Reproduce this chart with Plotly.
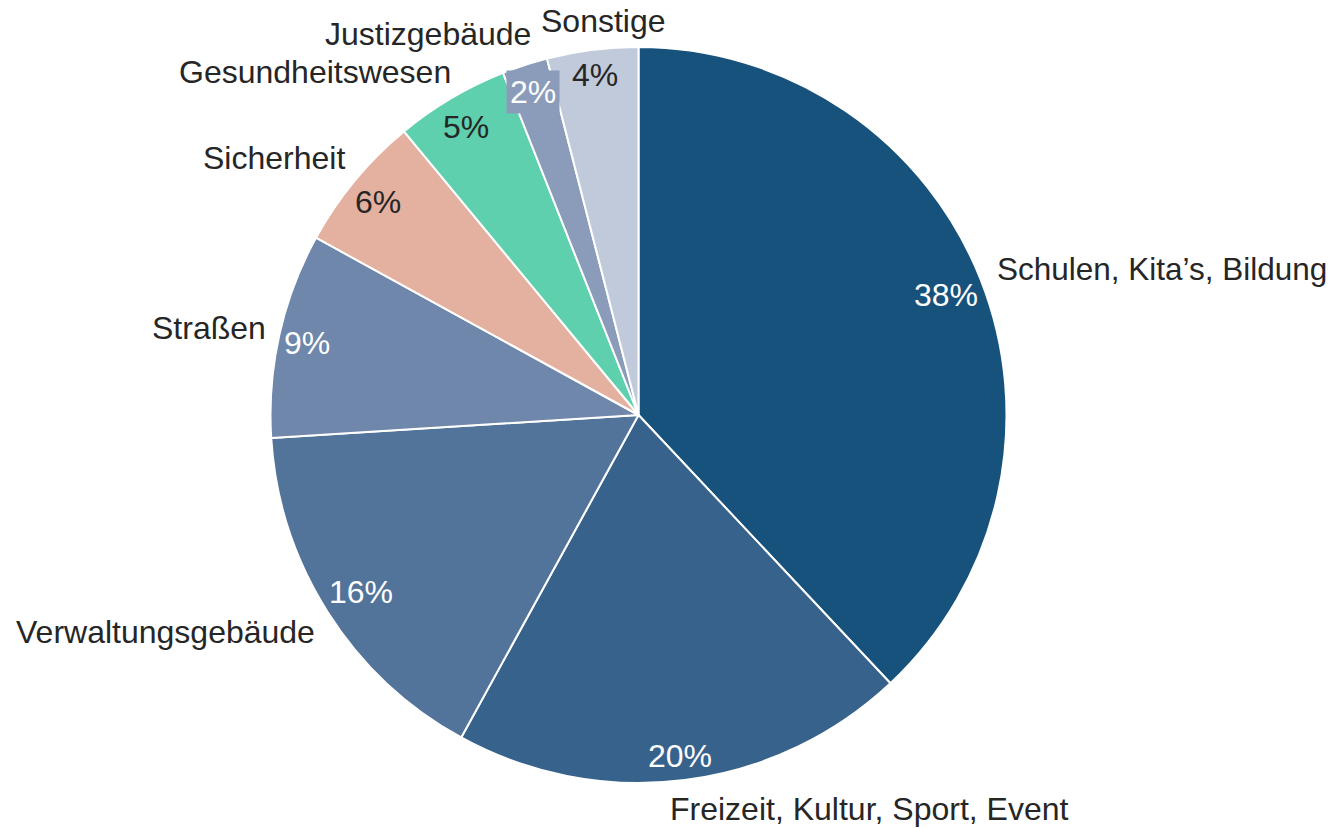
import math
import plotly.graph_objects as go

# ---- data ----
categories = ["Schulen, Kita’s, Bildung", "Freizeit, Kultur, Sport, Event", "Verwaltungsgebäude",
              "Straßen", "Sicherheit", "Gesundheitswesen", "Justizgebäude", "Sonstige"]
shares = [38, 20, 16, 9, 6, 5, 2, 4]
colors = ["#17527c", "#37628b", "#52749a", "#6e87ab", "#e4b1a1", "#5fd0ae", "#8a9cba", "#c1cadb"]
pct_colors = ["white", "white", "white", "white", "#262626", "#262626", "white", "#262626"]

# ---- layout geometry (page pixels) ----
W, H = 1335, 829
CX, CY, R = 638.5, 415.0, 368.0
FONT = "Liberation Sans, Arial, sans-serif"
DARK = "#262626"

# small manual nudges (px) to mimic the hand-tuned label placement
label_nudge = [(-3, 0), (-19, 2), (5, 5), (7, -1), (6, -5), (11, -2), (14, -5), (78, -2)]
label_size = [31.5, 32, 32, 32, 32, 32, 32, 32]
pct_nudge = [(0, 2), (0, 12), (2, 0), (-8, 0), (-5, -2), (-4, -3), (-3, -8), (-2, -11)]


def paper(x, y):
    return x / W, 1 - y / H


fig = go.Figure(go.Pie(
    labels=categories, values=shares, sort=False, direction="clockwise", rotation=0,
    marker=dict(colors=colors, line=dict(color="white", width=2)),
    textinfo="none", hoverinfo="label+percent", showlegend=False,
    domain=dict(x=[(CX - R) / W, (CX + R) / W],
                y=[1 - (CY + R) / H, 1 - (CY - R) / H]),
))

total = sum(shares)
cum = 0.0
annotations = []
for i, (cat, v) in enumerate(zip(categories, shares)):
    mid = (cum + v / 2) / total * 2 * math.pi
    cum += v
    s, c = math.sin(mid), math.cos(mid)
    # outside label
    lx = CX + 1.05 * R * s + label_nudge[i][0]
    ly = CY - 1.075 * R * c + label_nudge[i][1]
    px_, py_ = paper(lx, ly)
    annotations.append(dict(
        x=px_, y=py_, xref="paper", yref="paper", text=cat, showarrow=False,
        xanchor="left" if s > 0 else "right", yanchor="middle",
        font=dict(family=FONT, size=label_size[i], color=DARK)))
    # percentage label
    tx = CX + 0.9 * R * s + pct_nudge[i][0]
    ty = CY - 0.9 * R * c + pct_nudge[i][1]
    qx, qy = paper(tx, ty)
    ann = dict(
        x=qx, y=qy, xref="paper", yref="paper", text=f"{v:.0f}%", showarrow=False,
        xanchor="center", yanchor="middle",
        font=dict(family=FONT, size=32, color=pct_colors[i]))
    if cat == "Justizgebäude":
        ann.update(bgcolor=colors[i], borderpad=3)
    annotations.append(ann)

fig.update_layout(
    width=W, height=H, margin=dict(l=0, r=0, t=0, b=0),
    paper_bgcolor="white", plot_bgcolor="white",
    annotations=annotations,
)

fig.write_html(
    "out.html",
    config={"displayModeBar": False},
    post_script="document.body.style.margin='0';document.body.style.overflow='hidden';"
                "document.documentElement.style.overflow='hidden';",
)
